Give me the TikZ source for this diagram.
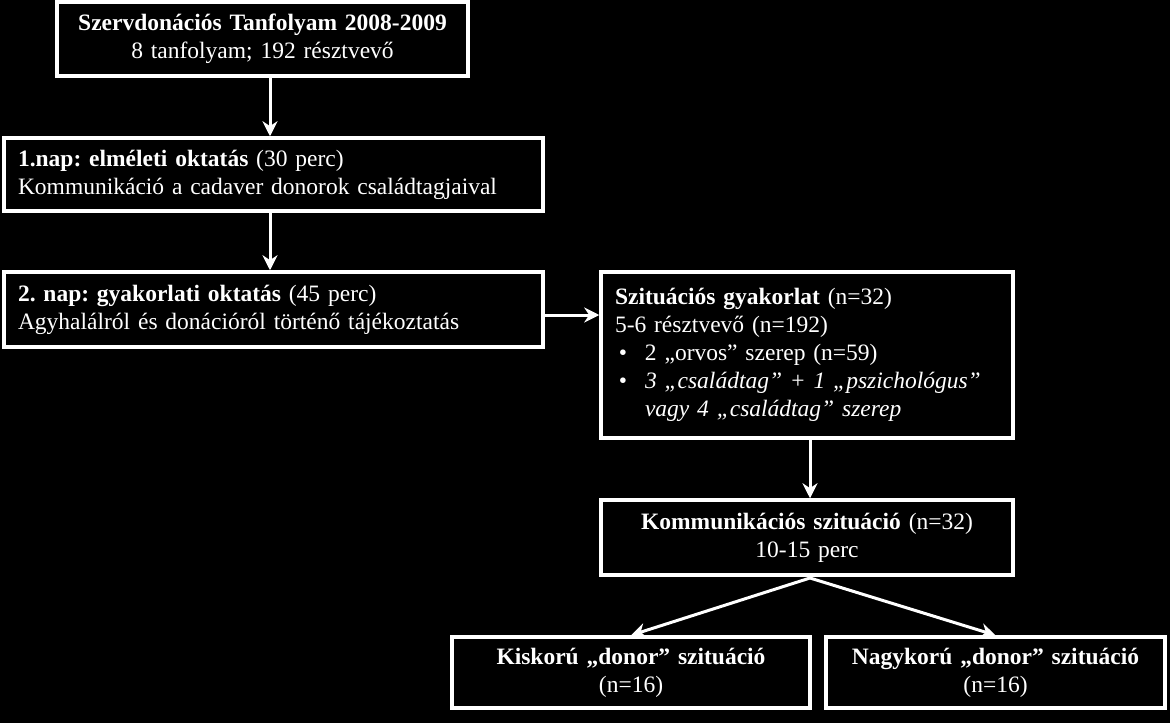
\documentclass[tikz,border=0pt]{standalone}
\usepackage{fontspec}
\setmainfont{Liberation Serif}
\usetikzlibrary{arrows.meta}
\begin{document}
\frenchspacing
\begin{tikzpicture}[x=1pt,y=-1pt,
 box/.style={draw=white,line width=3.5pt,text=white,inner ysep=0pt,inner xsep=14pt,font=\fontsize{23.5}{28}\selectfont},
 arr/.style={draw=white,line width=3pt,-{Stealth[length=15pt,width=15pt]}}]
\fill[black] (0,0) rectangle (1170,723);
\useasboundingbox (0,0) rectangle (1170,723);
\node[box,minimum width=411,minimum height=74,align=center,text width=383] (b1) at (262.5,39) {\textbf{Szervdonációs Tanfolyam 2008-2009}\\8 tanfolyam; 192 résztvevő};
\node[box,minimum width=539,minimum height=73,align=left,text width=511] (b2) at (273.5,174.5) {\textbf{1.nap: elméleti oktatás} (30 perc)\\Kommunikáció a cadaver donorok családtagjaival};
\node[box,minimum width=539,minimum height=75,align=left,text width=511] (b3) at (273.5,309.5) {\textbf{2. nap: gyakorlati oktatás} (45 perc)\\Agyhalálról és donációról történő tájékoztatás};
\node[box,minimum width=412,minimum height=166,align=left,text width=384] (b4) at (807,355) {\textbf{Szituációs gyakorlat} (n=32)\\5-6 résztvevő (n=192)\\
\makebox[30pt][l]{\,•}2 „orvos” szerep (n=59)\\
\makebox[30pt][l]{\,•}\textit{3 „családtag” + 1 „pszichológus”}\\
\hspace*{30pt}\textit{vagy 4 „családtag” szerep}};
\node[box,minimum width=412,minimum height=75,align=center,text width=384] (b5) at (807,537.5) {\textbf{Kommunikációs szituáció} (n=32)\\10-15 perc};
\node[box,minimum width=358,minimum height=71,align=center,text width=330] (b6) at (631,672.5) {\textbf{Kiskorú „donor” szituáció}\\(n=16)};
\node[box,minimum width=339,minimum height=71,align=center,text width=311] (b7) at (995.5,672.5) {\textbf{Nagykorú „donor” szituáció}\\(n=16)};
\draw[arr] (b1.south-|270,0) -- (b2.north-|270,0);
\draw[arr] (b2.south-|270,0) -- (b3.north-|270,0);
\draw[arr] (b3.east|-0,315) -- (b4.west|-0,315);
\draw[arr] (b4.south-|810,0) -- (b5.north-|810,0);
\coordinate (s) at (810,578);
\draw[arr] (s) -- (b6.north);
\draw[arr] (s) -- (b7.north);
\end{tikzpicture}
\end{document}
